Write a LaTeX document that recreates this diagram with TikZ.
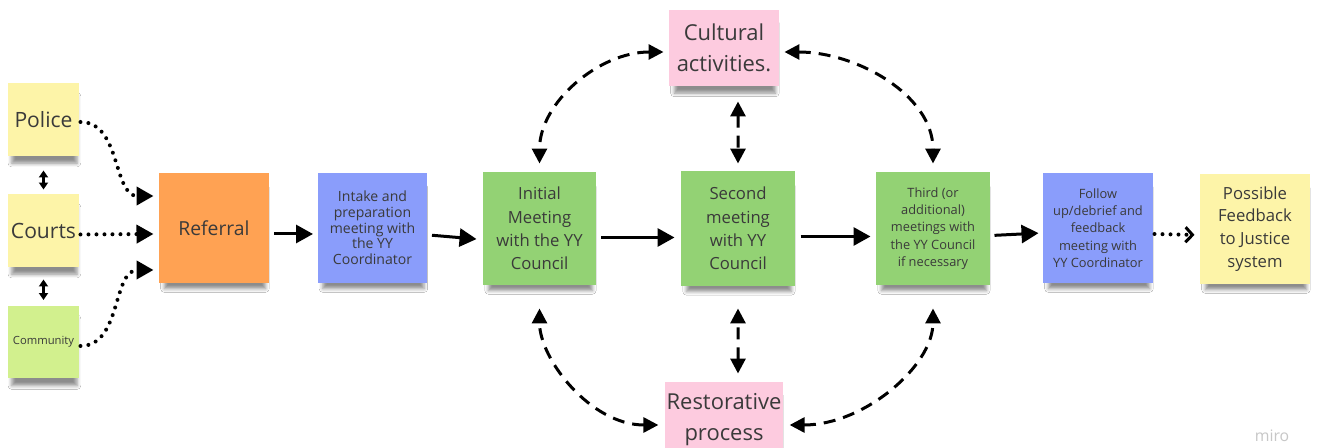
\documentclass[tikz,border=0pt]{standalone}
\usepackage{fontspec}
\setmainfont{Open Sans}
\usetikzlibrary{arrows.meta,shadows.blur}

\definecolor{noteyellow}{HTML}{FDF4A8}
\definecolor{notelime}{HTML}{D2F08E}
\definecolor{noteorange}{HTML}{FFA253}
\definecolor{noteblue}{HTML}{8A9DFB}
\definecolor{notegreen}{HTML}{93D274}
\definecolor{notepink}{HTML}{FDCBDF}
\definecolor{notetext}{HTML}{3A3A3A}

\begin{document}
\begin{tikzpicture}[x=0.02cm, y=0.02cm, line width=0.06cm, >={Triangle[length=0.34cm, width=0.36cm]},
		note/.style={rectangle, align=center, text=notetext, inner sep=1pt,
			minimum width=2.2cm, minimum height=2.2cm,
			blur shadow={shadow xshift=0.02cm, shadow yshift=-0.22cm, shadow scale=0.92,
				shadow blur radius=0.08cm, shadow opacity=45}},
		small/.style={note, minimum width=1.42cm, minimum height=1.46cm},
		wide/.style={note, minimum width=2.2cm, minimum height=1.52cm,
			font=\fontsize{12.5pt}{17.6pt}\selectfont},
		dots/.style={line width=0.08cm, line cap=round, dash pattern=on 0pt off 0.16cm},
		dashes/.style={dash pattern=on 0.24cm off 0.16cm, >={Triangle[length=0.3cm, width=0.3cm]}}]
	\useasboundingbox[fill=white] (0, 0) rectangle (1317, -448);

	% sources
	\node[small, fill=noteyellow, font=\fontsize{12pt}{14pt}\selectfont] (police) at (43.5, -119.5) {Police};
	\node[small, fill=noteyellow, font=\fontsize{12pt}{14pt}\selectfont] (courts) at (43.5, -230.5) {Courts};
	\node[small, fill=notelime, font=\fontsize{6.4pt}{8pt}\selectfont] (community) at (43.5, -342) {Community};

	% main line
	\node[note, fill=noteorange, font=\fontsize{11pt}{13pt}\selectfont] (referral) at (214, -228) {Referral};
	\node[note, fill=noteblue, font=\fontsize{8pt}{8.9pt}\selectfont] (intake) at (372.5, -228)
		{Intake and\\preparation\\meeting with\\the YY\\Coordinator};
	\node[note, fill=notegreen, minimum width=2.26cm, minimum height=2.26cm, font=\fontsize{9.5pt}{13.3pt}\selectfont]
		(initial) at (539.5, -228.5) {Initial\\Meeting\\with the YY\\Council};
	\node[note, fill=notegreen, minimum width=2.28cm, minimum height=2.3cm, font=\fontsize{9.5pt}{13.3pt}\selectfont]
		(second) at (738, -228.5) {Second\\meeting\\with YY\\Council};
	\node[note, fill=notegreen, minimum width=2.28cm, minimum height=2.26cm, font=\fontsize{7.3pt}{9.9pt}\selectfont]
		(third) at (933, -228.5) {Third (or\\additional)\\meetings with\\the YY Council\\if necessary};
	\node[note, fill=noteblue, font=\fontsize{7.3pt}{9.9pt}\selectfont] (follow) at (1098, -228)
		{Follow\\up/debrief and\\feedback\\meeting with\\YY Coordinator};
	\node[note, fill=noteyellow, font=\fontsize{9.5pt}{13pt}\selectfont] (possible) at (1255, -229)
		{Possible\\Feedback\\to Justice\\system};

	% side activities
	\node[wide, fill=notepink] (cultural) at (724, -48) {Cultural\\activities.};
	\node[wide, fill=notepink] (restorative) at (724, -420) {Restorative\\process};

	\node[text=black!22, font=\fontsize{9pt}{11pt}\selectfont] (miro) at (1272, -436) {miro};

	% referrals
	\draw[dots, ->] ([yshift=-0.05cm]police.east) to[out=0, in=180] ([yshift=0.64cm, xshift=-0.08cm]referral.west);
	\draw[dots, ->] ([yshift=-0.08cm]courts.east) -- ([yshift=-0.12cm, xshift=-0.08cm]referral.west);
	\draw[dots, ->] ([yshift=-0.08cm]community.east) to[out=0, in=180] ([yshift=-0.84cm, xshift=-0.08cm]referral.west);
	\draw[<->, >={Triangle[length=0.14cm, width=0.18cm]}, shorten <=0.26cm, shorten >=0.06cm] (police.south) -- (courts.north);
	\draw[<->, >={Triangle[length=0.14cm, width=0.18cm]}, shorten <=0.22cm, shorten >=0.08cm] (courts.south) -- (community.north);

	% process
	\draw[->, shorten <=0.08cm, shorten >=0.06cm] ([yshift=-0.12cm]referral.east) -- ([yshift=-0.12cm]intake.west);
	\draw[->, shorten <=0.06cm, shorten >=0.1cm] ([yshift=-0.14cm]intake.east) -- ([yshift=-0.22cm]initial.west);
	\draw[->, shorten <=0.08cm, shorten >=0.1cm] ([yshift=-0.18cm]initial.east) -- ([yshift=-0.18cm]second.west);
	\draw[->, shorten <=0.08cm, shorten >=0.08cm] ([yshift=-0.16cm]second.east) -- ([yshift=-0.16cm]third.west);
	\draw[->, shorten <=0.06cm, shorten >=0.06cm] ([yshift=-0.14cm]third.east) -- ([yshift=-0.1cm]follow.west);
	\draw[dots, -{Straight Barb[length=0.14cm, width=0.3cm, line width=0.06cm]}, shorten >=0.08cm]
		([yshift=-0.12cm]follow.east) -- ([yshift=-0.12cm]possible.west);

	% links to the side activities
	\draw[dashes, <->, shorten <=0.08cm, shorten >=0.14cm] ([yshift=-0.08cm]cultural.west) to[out=180, in=90] (initial.north);
	\draw[dashes, <->, shorten <=0.28cm, shorten >=0.12cm] ([xshift=0.28cm]cultural.south) -- (second.north);
	\draw[dashes, <->, shorten <=0.08cm, shorten >=0.14cm] ([yshift=-0.08cm]cultural.east) to[out=0, in=90] (third.north);
	\draw[dashes, <->, shorten <=0.1cm, shorten >=0.44cm] ([yshift=-0.1cm]restorative.west) to[out=180, in=-90] (initial.south);
	\draw[dashes, <->, shorten <=0.14cm, shorten >=0.42cm] ([xshift=0.28cm]restorative.north) -- (second.south);
	\draw[dashes, <->, shorten <=0.1cm, shorten >=0.44cm] ([yshift=-0.1cm]restorative.east) to[out=0, in=-90] (third.south);
\end{tikzpicture}
\end{document}
